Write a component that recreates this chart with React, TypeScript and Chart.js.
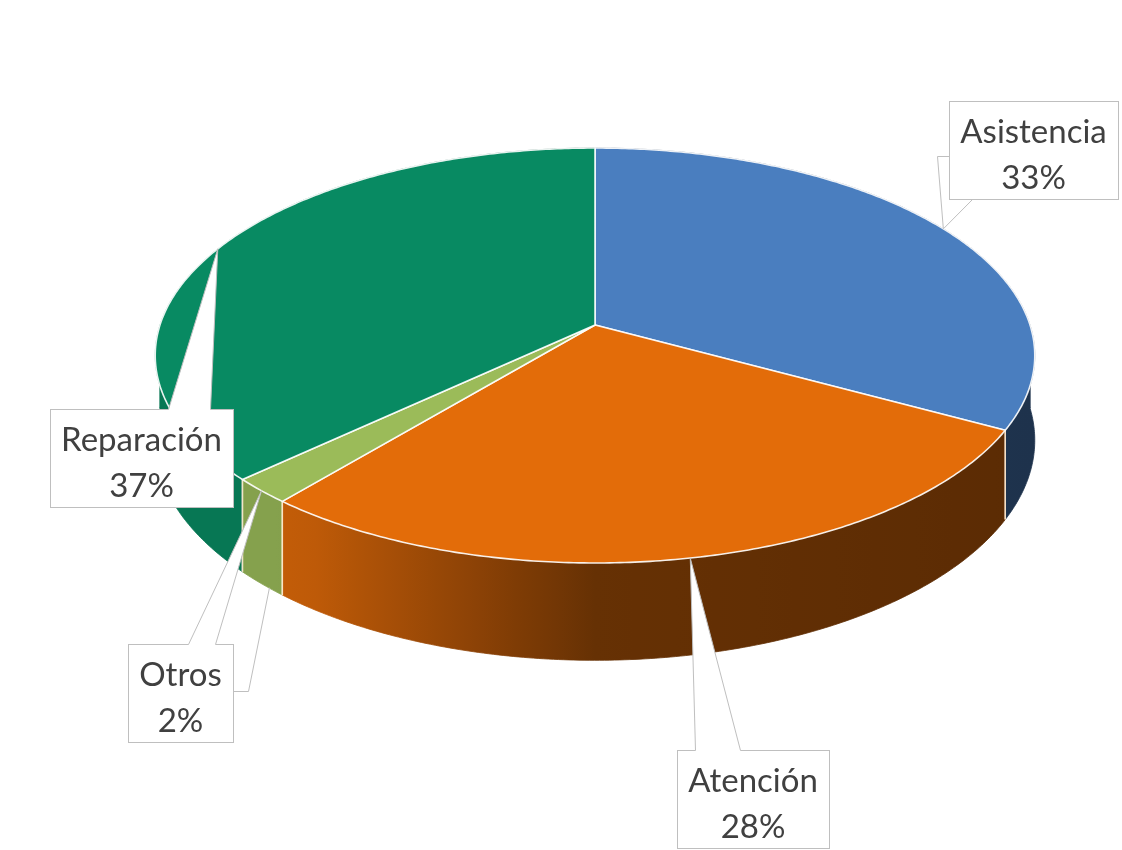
import React, { useEffect, useRef } from "react";
import { Chart, registerables } from "chart.js";

Chart.register(...registerables);

// ---- data ----
const categories = ["Asistencia", "Atención", "Otros", "Reparación"];
const shares = [33, 28, 2, 37];
const sliceColors = ["#4a7ebf", "#e36c09", "#9bbb59", "#088a62"];

// ---- label layout (callout box top-left, px) ----
const labelBoxes = [
  { left: 949, top: 101 },
  { left: 677, top: 750 },
  { left: 128, top: 644 },
  { left: 50, top: 409 },
];
const wedgeStyle = ["corner", "top", "top", "top"];
const wedgeBase = [
  [55, 23],
  [18, 63],
  [60, 87],
  [118, 160],
];

// ---- 3D projection (relative to the library's pie radius) ----
const TILT_X = 1.74;
const TILT_Y = 0.812;
const PERSP = 0.147;
const DEPTH = 0.332;

const FONT = "33px Lato, 'Open Sans', sans-serif";
const TEXT_COLOR = "#404040";
const BOX_BORDER = "#bfbfbf";

function hexToRgb(h: string) {
  const n = parseInt(h.slice(1), 16);
  return [(n >> 16) & 255, (n >> 8) & 255, n & 255];
}

function shade(u: number) {
  const f = u < 0 ? 0.45 + 0.6 * -u : 0.45 - 0.05 * u;
  return Math.min(f, 0.86);
}

function geometry(chart: any) {
  const meta = chart.getDatasetMeta(0);
  const arcs = meta.data as any[];
  if (!arcs || !arcs.length) return null;
  const a0 = arcs[0];
  const cx = a0.x;
  const cy = a0.y;
  const R = a0.outerRadius;
  const B = R * TILT_X;
  const A = R * TILT_Y;
  const H = R * DEPTH;
  const proj = (t: number, z: number) => {
    const u = Math.cos(t);
    const v = Math.sin(t);
    const s = 1 / (1 - PERSP * v);
    return [cx + B * u * s, cy + A * v * s + z * H * s];
  };
  return { arcs, cx, cy, R, B, A, H, proj };
}

const pie3d = {
  id: "pie3d",
  beforeDraw(chart: any) {
    const ctx = chart.ctx;
    ctx.save();
    ctx.fillStyle = "#ffffff";
    ctx.fillRect(0, 0, chart.width, chart.height);
    ctx.restore();
  },
  beforeDatasetsDraw(chart: any) {
    const g = geometry(chart);
    if (!g) return false;
    const { arcs, cx, cy, B, proj } = g;
    const ctx = chart.ctx as CanvasRenderingContext2D;
    ctx.save();

    const wallPath = (t0: number, t1: number) => {
      const n = Math.max(2, Math.ceil(Math.abs(t1 - t0) / 0.01));
      ctx.beginPath();
      for (let k = 0; k <= n; k++) {
        const t = t0 + ((t1 - t0) * k) / n;
        const [x, y] = proj(t, 0);
        if (k === 0) ctx.moveTo(x, y);
        else ctx.lineTo(x, y);
      }
      for (let k = n; k >= 0; k--) {
        const t = t0 + ((t1 - t0) * k) / n;
        const [x, y] = proj(t, 1);
        ctx.lineTo(x, y);
      }
      ctx.closePath();
    };

    const pieces: { t0: number; t1: number; i: number; front: boolean }[] = [];
    arcs.forEach((arc: any, i: number) => {
      const s = arc.startAngle;
      const e = arc.endAngle;
      const cuts = [s];
      for (let k = -2; k <= 4; k++) {
        const b = k * Math.PI;
        if (b > s + 1e-6 && b < e - 1e-6) cuts.push(b);
      }
      cuts.push(e);
      for (let j = 0; j < cuts.length - 1; j++) {
        const mid = (cuts[j] + cuts[j + 1]) / 2;
        pieces.push({ t0: cuts[j], t1: cuts[j + 1], i, front: Math.sin(mid) > 0 });
      }
    });

    const grads = arcs.map((_: any, i: number) => {
      const [r, gg, b] = hexToRgb(sliceColors[i]);
      const x0 = cx - B * 1.1;
      const x1 = cx + B * 1.1;
      const grad = ctx.createLinearGradient(x0, 0, x1, 0);
      for (let k = 0; k <= 24; k++) {
        const p = k / 24;
        const x = x0 + (x1 - x0) * p;
        const u = Math.max(-1, Math.min(1, (x - cx) / B));
        const f = shade(u);
        grad.addColorStop(p, `rgb(${Math.round(r * f)},${Math.round(gg * f)},${Math.round(b * f)})`);
      }
      return grad;
    });

    const drawPieces = (front: boolean) => {
      pieces
        .filter((p) => p.front === front)
        .forEach((p) => {
          wallPath(p.t0, p.t1);
          ctx.fillStyle = grads[p.i];
          ctx.fill();
          ctx.strokeStyle = grads[p.i];
          ctx.lineWidth = 0.8;
          ctx.stroke();
        });
    };
    drawPieces(false);
    drawPieces(true);

    // light seams on the side at slice boundaries
    ctx.strokeStyle = "rgba(255,235,210,0.75)";
    ctx.lineWidth = 1.5;
    arcs.forEach((arc: any) => {
      [arc.startAngle, arc.endAngle].forEach((t: number) => {
        if (Math.sin(t) > 0.02) {
          const [x0, y0] = proj(t, 0);
          const [x1, y1] = proj(t, 1);
          ctx.beginPath();
          ctx.moveTo(x0, y0);
          ctx.lineTo(x1, y1);
          ctx.stroke();
        }
      });
    });

    // top faces
    arcs.forEach((arc: any, i: number) => {
      const s = arc.startAngle;
      const e = arc.endAngle;
      const n = Math.max(2, Math.ceil((e - s) / 0.01));
      ctx.beginPath();
      ctx.moveTo(cx, cy);
      for (let k = 0; k <= n; k++) {
        const t = s + ((e - s) * k) / n;
        const [x, y] = proj(t, 0);
        ctx.lineTo(x, y);
      }
      ctx.closePath();
      ctx.fillStyle = sliceColors[i];
      ctx.fill();
      ctx.strokeStyle = "rgba(255,255,255,0.9)";
      ctx.lineWidth = 1.6;
      ctx.lineJoin = "round";
      ctx.stroke();
    });

    ctx.restore();
    return false;
  },
  afterDraw(chart: any) {
    const g = geometry(chart);
    if (!g) return;
    const { arcs, proj } = g;
    const ctx = chart.ctx as CanvasRenderingContext2D;
    const total = shares.reduce((a, b) => a + b, 0);
    ctx.save();
    ctx.font = FONT;
    arcs.forEach((arc: any, i: number) => {
      const mid = (arc.startAngle + arc.endAngle) / 2;
      const [tx, ty] = proj(mid, 0);
      const name = categories[i];
      const pct = Math.round((shares[i] / total) * 100) + "%";
      const tw = Math.max(ctx.measureText(name).width, ctx.measureText(pct).width);
      const w = Math.round(tw + 22);
      const h = 98;
      const L = labelBoxes[i].left;
      const T = labelBoxes[i].top;
      const [b0, b1] = wedgeBase[i];

      ctx.lineWidth = 1;
      ctx.strokeStyle = BOX_BORDER;
      ctx.fillStyle = "#ffffff";

      if (wedgeStyle[i] === "corner") {
        ctx.beginPath();
        ctx.moveTo(L + 0.5, T + b0 + 0.5);
        ctx.lineTo(L - 11.5, T + b0 + 0.5);
        ctx.lineTo(tx, ty);
        ctx.lineTo(L + b1 + 0.5, T + h + 0.5);
        ctx.closePath();
        ctx.fill();
        ctx.beginPath();
        ctx.moveTo(L + 0.5, T + b0 + 0.5);
        ctx.lineTo(L - 11.5, T + b0 + 0.5);
        ctx.lineTo(tx, ty);
        ctx.lineTo(L + b1 + 0.5, T + h + 0.5);
        ctx.stroke();
        ctx.fillRect(L, T, w, h);
        ctx.strokeRect(L + 0.5, T + 0.5, w, h);
      } else {
        ctx.fillRect(L, T, w, h);
        ctx.strokeRect(L + 0.5, T + 0.5, w, h);
        ctx.beginPath();
        ctx.moveTo(L + b0 + 0.5, T + 3);
        ctx.lineTo(L + b0 + 0.5, T + 0.5);
        ctx.lineTo(tx, ty);
        ctx.lineTo(L + b1 + 0.5, T + 0.5);
        ctx.lineTo(L + b1 + 0.5, T + 3);
        ctx.closePath();
        ctx.fill();
        ctx.beginPath();
        ctx.moveTo(L + b0 + 0.5, T + 0.5);
        ctx.lineTo(tx, ty);
        ctx.lineTo(L + b1 + 0.5, T + 0.5);
        ctx.stroke();
        if (i === 2) {
          const [bx, by] = proj(mid, 1);
          ctx.beginPath();
          ctx.moveTo(L + w + 0.5, T + 47.5);
          ctx.lineTo(L + w + 15.5, T + 47.5);
          ctx.lineTo(bx + 8, by + 4);
          ctx.stroke();
        }
      }

      ctx.fillStyle = TEXT_COLOR;
      ctx.textAlign = "center";
      ctx.textBaseline = "alphabetic";
      ctx.fillText(name, L + w / 2, T + 42);
      ctx.fillText(pct, L + w / 2, T + 88);
    });
    ctx.restore();
  },
};

export default function App() {
  const ref = useRef<HTMLCanvasElement | null>(null);
  useEffect(() => {
    if (!ref.current) return;
    const chart = new Chart(ref.current, {
      type: "pie",
      data: {
        labels: categories,
        datasets: [
          {
            data: shares,
            backgroundColor: sliceColors,
            borderWidth: 0,
          },
        ],
      },
      options: {
        responsive: false,
        animation: false,
        devicePixelRatio: 1,
        events: [],
        layout: { padding: { left: 160, right: 92, top: 75, bottom: 275 } },
        plugins: {
          legend: { display: false },
          tooltip: { enabled: false },
        },
      },
      plugins: [pie3d as any],
    });
    return () => chart.destroy();
  }, []);
  return (
    <canvas
      ref={ref}
      width={1122}
      height={850}
      style={{ position: "absolute", left: 0, top: 0, width: 1122, height: 850 }}
    />
  );
}
